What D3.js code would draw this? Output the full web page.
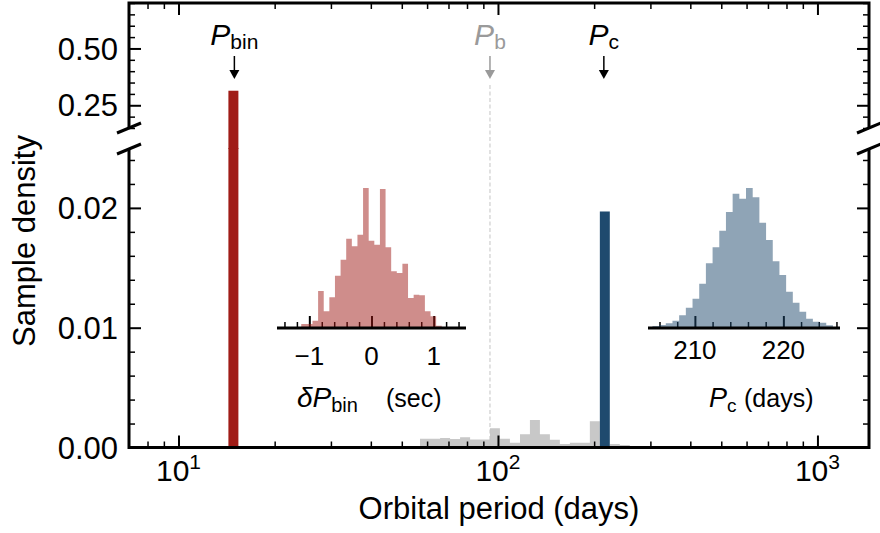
<!DOCTYPE html>
<html>
<head>
<meta charset="utf-8">
<script src="https://cdn.jsdelivr.net/npm/d3@7"></script>
<style>
  body { margin: 0; background: #fff; }
  text { font-family: "Liberation Sans", Arial, Helvetica, sans-serif; fill: #000; }
</style>
</head>
<body>
<div id="container"></div>
<script>
// main histogram: log-spaced bin edges (days) and sample density
var grayEdges = [57.0, 61.3, 65.9, 70.8, 76.1, 81.8, 87.8, 94.4, 101.4, 109.0, 117.2, 125.9,
                 135.3, 145.4, 156.2, 167.9, 180.4, 193.9, 208.4, 223.9, 240.6, 258.6, 277.9,
                 298.6, 320.9, 344.8, 370.6, 398.2, 427.9, 459.8, 494.1, 531.0, 570.6, 613.2,
                 659.0, 708.1];
var grayDensity = [0.00072, 0.00072, 0.0008, 0.0007, 0.00086, 0.00066, 0.00066, 0.0016, 0.00072,
                   0.0004, 0.0011, 0.0023, 0.0011, 0.00064, 0.0003, 0.0004, 0.0004, 0.0022, 0,
                   0.0003, 0.0002, 0.00012, 0.00008, 0.00006, 0.00005, 0.00005, 0.00006, 0.00006,
                   0.00008, 0.0001, 0.00012, 0.0001, 0.00006, 0.00004, 0.00003];
var pbinBar = [14.33, 15.40, 0.314];   // [from, to, density]
var pcBar = [208.4, 223.9, 0.0197];

var markNames = ["bin", "b", "c"];
var markPeriods = [14.96, 94.4, 214.5];

// inset histograms: [first edge, last edge] and counts per bin
var dPbinRange = [-1.13, 1.13];
var dPbinCounts = [3, 3, 6.3, 36, 15.7, 29.7, 51.3, 67.3, 88.3, 80.7, 92.3, 139, 86.3, 82.3,
                   138, 79.7, 55.7, 54, 63.3, 29, 32.3, 31.7, 15.7, 10.7, 1.3];
var pcRange = [205.2, 225.6];
var pcCounts = [1, 2, 3.7, 6.3, 11.7, 19.3, 28.3, 43.3, 63.7, 79.7, 96.3, 115, 133.3, 128.3,
                139, 129.7, 104.3, 87, 65.7, 52, 35.3, 24.3, 15.3, 8.3, 5.3, 4.3, 1.7];

var topTicks = [0.25, 0.50];
var bottomTicks = [0, 0.01, 0.02];
var xTickValues = [10, 100, 1000];
var xTickExps = ["1", "2", "3"];
var dPbinTicks = [-1, 0, 1];
var pcTicks = [210, 220];

var red = "#a01c17", blue = "#1f4a6e", gray = "#c8c8c8";

var width = 880, height = 533;

var svg = d3.select("#container").append("svg")
    .attr("width", width)
    .attr("height", height);

var x = d3.scaleLog().domain([7, 1450]).range([129, 869]);
var yTop = d3.scaleLinear().domain([0.15, 0.70]).range([128, 3]);
var yBot = d3.scaleLinear().domain([0, 0.025]).range([447.5, 148]);

var defs = svg.append("defs");
defs.append("clipPath").attr("id", "clipTop").append("rect")
    .attr("x", 129).attr("y", 3).attr("width", 740).attr("height", 146);
defs.append("clipPath").attr("id", "clipBot").append("rect")
    .attr("x", 129).attr("y", 148).attr("width", 740).attr("height", 299.5);

// ---- bars ----
var gBot = svg.append("g").attr("clip-path", "url(#clipBot)");

var stepPts = grayEdges.map(function(e, i) { return [e, i < grayDensity.length ? grayDensity[i] : 0]; });
gBot.append("path")
    .datum(stepPts)
    .attr("fill", gray)
    .attr("d", d3.area()
        .curve(d3.curveStepAfter)
        .x(function(d) { return x(d[0]); })
        .y0(yBot(0))
        .y1(function(d) { return yBot(d[1]); }));

[[pbinBar, red], [pcBar, blue]].forEach(function(b) {
    gBot.append("rect")
        .attr("x", x(b[0][0]))
        .attr("width", x(b[0][1]) - x(b[0][0]))
        .attr("y", yBot(Math.min(b[0][2], 0.03)))
        .attr("height", yBot(0) - yBot(Math.min(b[0][2], 0.03)))
        .attr("fill", b[1]);
});

// upper part of the P_bin bar, running through the axis break
svg.append("g").attr("clip-path", "url(#clipTop)")
    .append("rect")
    .attr("x", x(pbinBar[0]))
    .attr("width", x(pbinBar[1]) - x(pbinBar[0]))
    .attr("y", yTop(pbinBar[2]))
    .attr("height", 160 - yTop(pbinBar[2]))
    .attr("fill", red);

// P_b dashed line
svg.append("line")
    .attr("x1", x(markPeriods[1])).attr("x2", x(markPeriods[1]))
    .attr("y1", 85).attr("y2", yBot(0))
    .attr("stroke", "#c4c4c4")
    .attr("stroke-width", 1)
    .attr("stroke-dasharray", "4,2.5");

// ---- ticks ----
function styleTicks(g, w) {
    g.select(".domain").remove();
    g.selectAll(".tick line").attr("stroke", "#000").attr("stroke-width", w);
    g.selectAll(".tick text").remove();
}

var xMinor = x.ticks().filter(function(v) { return v > 7.5 && xTickValues.indexOf(v) < 0; });

function xTicks(axisFn, y0) {
    svg.append("g").attr("transform", "translate(0," + y0 + ")")
        .call(axisFn(x).tickValues(xTickValues).tickSize(12).tickFormat(""))
        .call(styleTicks, 2);
    svg.append("g").attr("transform", "translate(0," + y0 + ")")
        .call(axisFn(x).tickValues(xMinor).tickSize(6).tickFormat(""))
        .call(styleTicks, 1.5);
}
xTicks(d3.axisBottom, 3);
xTicks(d3.axisTop, yBot(0));

function yTicks(scale, major, minorStep) {
    var d = scale.domain();
    var minor = d3.range(Math.ceil(d[0] / minorStep) * minorStep, d[1] + 1e-9, minorStep)
        .filter(function(v) { return !major.some(function(m) { return Math.abs(m - v) < 1e-9; }); });
    [[d3.axisRight, 129], [d3.axisLeft, 869]].forEach(function(a) {
        svg.append("g").attr("transform", "translate(" + a[1] + ",0)")
            .call(a[0](scale).tickValues(major).tickSize(12).tickFormat(""))
            .call(styleTicks, 2);
        svg.append("g").attr("transform", "translate(" + a[1] + ",0)")
            .call(a[0](scale).tickValues(minor).tickSize(6).tickFormat(""))
            .call(styleTicks, 1.5);
    });
}
yTicks(yTop, topTicks, 0.05);
yTicks(yBot, bottomTicks, 0.002);

// ---- spines ----
svg.append("path")
    .attr("d", "M129," + yTop.range()[0] + "V3H869V" + yTop.range()[0])
    .attr("fill", "none").attr("stroke", "#000").attr("stroke-width", 3);
svg.append("path")
    .attr("d", "M129,148V" + yBot(0) + "H869V148")
    .attr("fill", "none").attr("stroke", "#000").attr("stroke-width", 3);

// break marks
[129, 869].forEach(function(sx) {
    [128, 149].forEach(function(sy) {
        svg.append("line")
            .attr("x1", sx - 12).attr("y1", sy + 5)
            .attr("x2", sx + 12).attr("y2", sy - 5)
            .attr("stroke", "#000").attr("stroke-width", 3);
    });
});

// ---- tick labels ----
topTicks.forEach(function(v) {
    svg.append("text").attr("x", 118).attr("y", yTop(v)).attr("dy", "0.36em")
        .attr("text-anchor", "end").attr("font-size", 31).text(v.toFixed(2));
});
bottomTicks.forEach(function(v) {
    svg.append("text").attr("x", 118).attr("y", yBot(v)).attr("dy", "0.36em")
        .attr("text-anchor", "end").attr("font-size", 31).text(v.toFixed(2));
});
xTickValues.forEach(function(v, i) {
    var t = svg.append("text").attr("x", x(v)).attr("y", 481)
        .attr("text-anchor", "middle").attr("font-size", 30);
    t.append("tspan").text("10");
    t.append("tspan").attr("font-size", 21).attr("dy", -12).text(xTickExps[i]);
});

// axis labels
svg.append("text")
    .attr("x", (x.range()[0] + x.range()[1]) / 2).attr("y", 519)
    .attr("text-anchor", "middle").attr("font-size", 31)
    .text("Orbital period (days)");
svg.append("text")
    .attr("transform", "translate(35,241) rotate(-90)")
    .attr("text-anchor", "middle").attr("font-size", 31)
    .text("Sample density");

// ---- period markers ----
markNames.forEach(function(name, i) {
    var px = x(markPeriods[i]);
    var col = name === "b" ? "#9a9a9a" : "#000";
    var t = svg.append("text").attr("x", px).attr("y", 45)
        .attr("text-anchor", "middle").attr("font-size", 30);
    t.append("tspan").attr("font-style", "italic").attr("fill", col).text("P");
    t.append("tspan").attr("font-size", 21).attr("dy", 4).attr("fill", col).text(name);
    svg.append("line").attr("x1", px).attr("x2", px).attr("y1", 56).attr("y2", 71)
        .attr("stroke", col).attr("stroke-width", 1.5);
    svg.append("path")
        .attr("d", "M" + (px - 5) + ",70L" + (px + 5) + ",70L" + px + ",79Z")
        .attr("fill", col);
});

// ---- insets ----
function inset(opts) {
    var xi = d3.scaleLinear().domain(opts.domain).range(opts.range);
    var yi = d3.scaleLinear().domain([0, 140]).range([327, 187]);
    var g = svg.append("g");
    var ax = 328;

    var minor = xi.ticks(opts.minorCount).filter(function(v) { return opts.ticks.indexOf(v) < 0; });
    g.append("g").attr("transform", "translate(0," + ax + ")")
        .call(d3.axisTop(xi).tickValues(opts.ticks).tickSize(12).tickFormat(""))
        .call(styleTicks, 2);
    g.append("g").attr("transform", "translate(0," + ax + ")")
        .call(d3.axisTop(xi).tickValues(minor).tickSize(6).tickFormat(""))
        .call(styleTicks, 1.5);

    var n = opts.counts.length;
    var bw = (opts.bins[1] - opts.bins[0]) / n;
    var pts = opts.counts.map(function(c, i) { return [opts.bins[0] + i * bw, c]; });
    pts.push([opts.bins[1], 0]);
    g.append("path")
        .datum(pts)
        .attr("fill", opts.color)
        .attr("fill-opacity", 0.5)
        .attr("d", d3.area()
            .curve(d3.curveStepAfter)
            .x(function(d) { return xi(d[0]); })
            .y0(yi(0))
            .y1(function(d) { return yi(d[1]); }));

    g.append("line")
        .attr("x1", opts.range[0]).attr("x2", opts.range[1])
        .attr("y1", ax).attr("y2", ax)
        .attr("stroke", "#000").attr("stroke-width", 3);

    opts.ticks.forEach(function(v) {
        g.append("text").attr("x", xi(v)).attr("y", opts.labelY)
            .attr("text-anchor", "middle").attr("font-size", 26)
            .text(v < 0 ? "\u2212" + Math.abs(v) : String(v));
    });

    var t = g.append("text").attr("x", opts.titleX).attr("y", 407)
        .attr("font-size", 25);
    opts.title(t);
}

inset({
    domain: [-1.52, 1.52], range: [277, 466],
    bins: dPbinRange, counts: dPbinCounts, color: red,
    ticks: dPbinTicks, minorCount: 15, labelY: 365, titleX: 297,
    title: function(t) {
        t.append("tspan").attr("font-style", "italic").attr("font-size", 28).text("\u03b4P");
        t.append("tspan").attr("font-size", 20).attr("dy", 5).text("bin");
        t.append("tspan").attr("x", 386).attr("dy", -5).text("(sec)");
    }
});

inset({
    domain: [204.7, 226.4], range: [648, 840],
    bins: pcRange, counts: pcCounts, color: blue,
    ticks: pcTicks, minorCount: 10, labelY: 359, titleX: 709,
    title: function(t) {
        t.append("tspan").attr("font-style", "italic").attr("font-size", 27).text("P");
        t.append("tspan").attr("font-size", 19).attr("dy", 5).text("c");
        t.append("tspan").attr("x", 744).attr("dy", -5).text("(days)");
    }
});
</script>
</body>
</html>
